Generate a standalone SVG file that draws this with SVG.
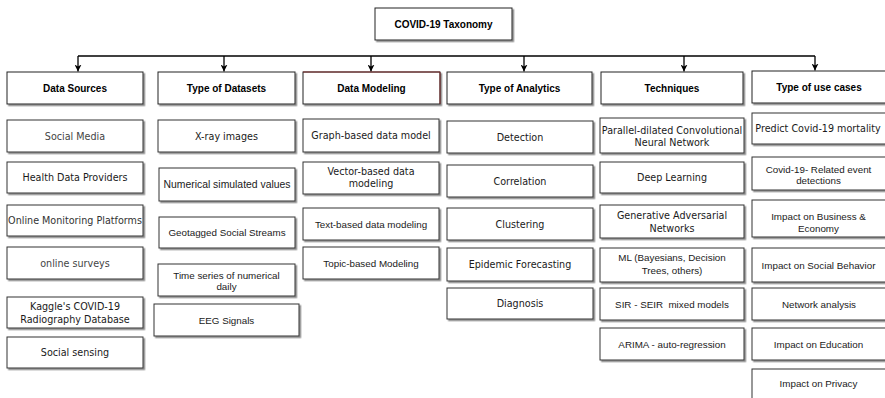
<svg xmlns="http://www.w3.org/2000/svg" width="885" height="398" viewBox="0 0 885 398">
<defs>
<filter id="sh" x="-5%" y="-10%" width="115%" height="130%">
<feDropShadow dx="1.6" dy="1.6" stdDeviation="0.4" flood-color="#8a8a8a" flood-opacity="1"/>
</filter>
<marker id="arr" viewBox="0 0 10 10" refX="10" refY="5" markerWidth="7" markerHeight="7" markerUnits="userSpaceOnUse" orient="auto">
<path d="M0,0 L10,5 L0,10 L3,5 z" fill="#000"/>
</marker>
</defs>
<style>
.bx{fill:#fff;stroke:#333;stroke-width:1;filter:url(#sh)}
.hb{fill:#fff;stroke:#222;stroke-width:1;filter:url(#sh)}
text{text-anchor:middle;fill:#1a1a1a}
.h{font-family:"Liberation Sans",Arial,sans-serif;font-weight:bold;font-size:10px;fill:#000}
.v{font-family:"DejaVu Sans",Verdana,sans-serif;font-size:9.6px}
.a{font-family:"Liberation Sans",Arial,sans-serif;font-size:9.8px}
.g{fill:#444}
.conn line{stroke:#000;stroke-width:1.3;fill:none}
</style>
<rect width="885" height="398" fill="#fff"/>

<g id="title"><rect class="hb" x="375" y="8" width="137" height="32"/><text class="h" x="443.5" y="27.5">COVID-19 Taxonomy</text></g>

<g class="conn" id="connectors">
<line x1="78" y1="56" x2="815" y2="56"/>
<line x1="78" y1="56" x2="78" y2="71.5" marker-end="url(#arr)"/>
<line x1="224" y1="56" x2="224" y2="71.5" marker-end="url(#arr)"/>
<line x1="371" y1="56" x2="371" y2="71.5" marker-end="url(#arr)"/>
<line x1="524" y1="56" x2="524" y2="71.5" marker-end="url(#arr)"/>
<line x1="684" y1="56" x2="684" y2="71.5" marker-end="url(#arr)"/>
<line x1="815" y1="56" x2="815" y2="70.5" marker-end="url(#arr)"/>
</g>

<g id="hdr-sources"><rect class="hb" x="7" y="72" width="136" height="32"/><text class="h" x="75" y="91.5">Data Sources</text></g>
<g id="hdr-datasets"><rect class="hb" x="158" y="72" width="137" height="32"/><text class="h" x="226.5" y="91.5">Type of Datasets</text></g>
<g id="hdr-modeling"><rect class="hb" x="303" y="72" width="137" height="32"/><polyline points="303,72 440,72 440,104" fill="none" stroke="#7a2b2b" stroke-width="1"/><text class="h" x="371.5" y="91.5">Data Modeling</text></g>
<g id="hdr-analytics"><rect class="hb" x="447" y="72" width="145" height="32"/><text class="h" x="519.5" y="91.5">Type of Analytics</text></g>
<g id="hdr-techniques"><rect class="hb" x="601" y="72" width="142" height="32"/><text class="h" x="672" y="91.5">Techniques</text></g>
<g id="hdr-usecases"><rect class="hb" x="752" y="71" width="136" height="32"/><text class="h" x="819" y="90.5">Type of use cases</text></g>

<g id="social-media"><rect class="bx" x="7" y="120" width="136" height="32"/><text class="v g" x="75" y="139.5">Social Media</text></g>
<g id="health-data"><rect class="bx" x="7" y="162" width="136" height="31"/><text class="v" x="75" y="181">Health Data Providers</text></g>
<g id="online-monitoring"><rect class="bx" x="7" y="205" width="136" height="31"/><text class="v" x="75" y="224" fill="#333" style="fill:#333">Online Monitoring Platforms</text></g>
<g id="online-surveys"><rect class="bx" x="7" y="247" width="136" height="32"/><text class="v g" x="75" y="266.5">online surveys</text></g>
<g id="kaggle"><rect class="bx" x="7" y="297" width="136" height="31"/><text class="v" x="75" y="309.5">Kaggle's COVID-19</text><text class="v" x="75" y="322.5">Radiography Database</text></g>
<g id="social-sensing"><rect class="bx" x="7" y="337" width="136" height="31"/><text class="v" x="75" y="356">Social sensing</text></g>

<g id="xray"><rect class="bx" x="158" y="120" width="137" height="32"/><text class="v" x="226.5" y="139.5">X-ray images</text></g>
<g id="numerical"><rect class="bx" x="159" y="168" width="136" height="33"/><text class="a" x="227" y="188" style="font-size:10.4px">Numerical simulated values</text></g>
<g id="geotagged"><rect class="bx" x="159" y="217" width="136" height="31"/><text class="a" x="227" y="236">Geotagged Social Streams</text></g>
<g id="timeseries"><rect class="bx" x="158" y="264" width="137" height="32"/><text class="a" x="226.5" y="278.5">Time series of numerical</text><text class="a" x="226.5" y="290">daily</text></g>
<g id="eeg"><rect class="bx" x="154" y="304" width="145" height="32"/><text class="a" x="226.5" y="323.5">EEG Signals</text></g>

<g id="graph-based"><rect class="bx" x="303" y="119" width="136" height="33"/><text class="v" x="371" y="139">Graph-based data model</text></g>
<g id="vector-based"><rect class="bx" x="303" y="162" width="136" height="32"/><text class="v" x="371" y="175">Vector-based data</text><text class="v" x="371" y="187">modeling</text></g>
<g id="text-based"><rect class="bx" x="303" y="208" width="136" height="32"/><text class="a" x="371" y="227.5">Text-based data modeling</text></g>
<g id="topic-based"><rect class="bx" x="303" y="247" width="136" height="32"/><text class="a" x="371" y="266.5">Topic-based Modeling</text></g>

<g id="detection"><rect class="bx" x="447" y="121" width="146" height="32"/><text class="v" x="520" y="140.5">Detection</text></g>
<g id="correlation"><rect class="bx" x="447" y="165" width="146" height="32"/><text class="v" x="520" y="184.5">Correlation</text></g>
<g id="clustering"><rect class="bx" x="447" y="208" width="146" height="32"/><text class="v" x="520" y="227.5">Clustering</text></g>
<g id="epidemic"><rect class="bx" x="447" y="248" width="146" height="33"/><text class="v" x="520" y="268">Epidemic Forecasting</text></g>
<g id="diagnosis"><rect class="bx" x="447" y="288" width="146" height="31"/><text class="v" x="520" y="307">Diagnosis</text></g>

<g id="parallel-cnn"><rect class="bx" x="600" y="118" width="144" height="35"/><text class="v" x="672" y="133.5">Parallel-dilated Convolutional</text><text class="v" x="672" y="145.7">Neural Network</text></g>
<g id="deep-learning"><rect class="bx" x="600" y="162" width="144" height="31"/><text class="v" x="672" y="181">Deep Learning</text></g>
<g id="gan"><rect class="bx" x="600" y="205" width="144" height="33"/><text class="v" x="672" y="219">Generative Adversarial</text><text class="v" x="672" y="231.5">Networks</text></g>
<g id="ml"><rect class="bx" x="600" y="248" width="144" height="34"/><text class="a" x="672" y="260.5">ML (Bayesians, Decision</text><text class="a" x="672" y="274">Trees, others)</text></g>
<g id="sir"><rect class="bx" x="600" y="288" width="144" height="32"/><text class="a" x="672" y="307.5" xml:space="preserve">SIR - SEIR  mixed models</text></g>
<g id="arima"><rect class="bx" x="600" y="328" width="144" height="32"/><text class="a" x="672" y="347.5">ARIMA - auto-regression</text></g>

<g id="predict"><rect class="bx" x="752" y="113" width="136" height="31"/><text class="v" x="818" y="132">Predict Covid-19 mortality</text></g>
<g id="event-detection"><rect class="bx" x="752" y="157" width="136" height="33"/><text class="a" x="818.5" y="172.5">Covid-19- Related event</text><text class="a" x="818.5" y="184">detections</text></g>
<g id="business"><rect class="bx" x="752" y="200" width="136" height="37"/><text class="a" x="818.5" y="219.5">Impact on Business &amp;</text><text class="a" x="818.5" y="231.8">Economy</text></g>
<g id="social-behavior"><rect class="bx" x="752" y="248" width="136" height="34"/><text class="a" x="818.5" y="268.5">Impact on Social Behavior</text></g>
<g id="network"><rect class="bx" x="752" y="288" width="136" height="32"/><text class="a" x="819" y="307.5">Network analysis</text></g>
<g id="education"><rect class="bx" x="752" y="328" width="136" height="32"/><text class="a" x="818.5" y="347.5">Impact on Education</text></g>
<g id="privacy"><rect class="bx" x="752" y="369" width="136" height="34"/><text class="a" x="818.5" y="386.5">Impact on Privacy</text></g>
</svg>
